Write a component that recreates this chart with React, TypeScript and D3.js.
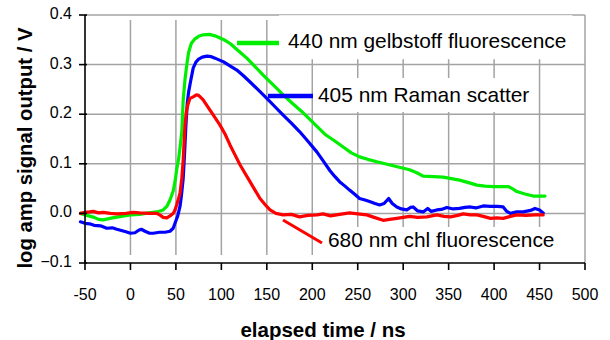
import React, { useEffect, useRef } from 'react';
import * as d3 from 'd3';

// ---- axis ticks ----
const xTicks = [-50, 0, 50, 100, 150, 200, 250, 300, 350, 400, 450, 500];
const yTicks = [-0.1, 0.0, 0.1, 0.2, 0.3, 0.4];
const xTitle = 'elapsed time / ns';
const yTitle = 'log amp signal output / V';

// ---- 440 nm gelbstoff fluorescence (green) ----
const gelbstoffTime = [-55, -48, -40, -35, -30, -25, -20, -10, 0, 10, 20, 29, 36, 40, 43.5, 47, 49, 51, 53, 55, 56.5, 58, 60, 62, 64, 67, 71, 75, 80, 87, 93, 98, 104, 110, 118, 128, 137, 146, 157, 168, 178, 188, 197, 206, 215, 224, 234, 243, 252, 261, 271, 280, 289, 298, 307, 315, 322, 333, 344, 353, 362, 372, 381, 390, 399, 408, 416, 421, 425, 434, 443, 450, 456];
const gelbstoffSignal = [0.0, -0.004, -0.008, -0.012, -0.013, -0.011, -0.009, -0.006, -0.003, -0.002, 0.001, 0.003, 0.007, 0.014, 0.027, 0.045, 0.064, 0.09, 0.11, 0.14, 0.165, 0.228, 0.27, 0.3, 0.325, 0.343, 0.352, 0.357, 0.36, 0.361, 0.358, 0.354, 0.349, 0.342, 0.329, 0.313, 0.296, 0.279, 0.259, 0.239, 0.222, 0.206, 0.19, 0.174, 0.158, 0.147, 0.134, 0.122, 0.114, 0.109, 0.104, 0.1, 0.096, 0.092, 0.088, 0.082, 0.075, 0.074, 0.073, 0.07, 0.067, 0.062, 0.057, 0.055, 0.054, 0.054, 0.054, 0.049, 0.044, 0.039, 0.035, 0.035, 0.035];

// ---- 405 nm Raman scatter (blue) ----
const ramanTime = [-55, -50, -45, -40, -33, -26, -20, -15, -11, -5, 0, 5, 9, 12, 16, 21, 25, 32, 38, 43.5, 47, 49, 52, 54.5, 56, 58, 59.5, 61, 62.5, 64, 66, 69, 72, 75, 79, 84, 89, 93, 98, 102, 109, 117, 124, 131, 140, 150, 159, 168, 177, 186, 195, 205, 212, 219.5, 225, 230, 236, 241, 247, 252, 258, 263, 269, 274, 279, 284, 288, 293, 298, 304, 308, 311, 316, 322, 327, 331, 337, 342, 348, 355, 362, 368, 374, 380, 388, 396, 404, 410, 414, 418, 425, 432, 440, 445, 450, 454];
const ramanSignal = [-0.017, -0.02, -0.021, -0.024, -0.025, -0.03, -0.029, -0.032, -0.034, -0.037, -0.04, -0.039, -0.034, -0.032, -0.036, -0.04, -0.04, -0.038, -0.038, -0.036, -0.03, -0.02, -0.005, 0.014, 0.035, 0.07, 0.12, 0.178, 0.222, 0.245, 0.265, 0.293, 0.305, 0.311, 0.315, 0.317, 0.316, 0.313, 0.309, 0.306, 0.298, 0.289, 0.278, 0.266, 0.25, 0.232, 0.215, 0.198, 0.182, 0.165, 0.146, 0.124, 0.106, 0.086, 0.074, 0.064, 0.055, 0.047, 0.038, 0.03, 0.027, 0.024, 0.02, 0.017, 0.02, 0.03, 0.02, 0.013, 0.009, 0.007, 0.012, 0.013, 0.005, 0.003, 0.01, 0.004, 0.007, 0.008, 0.012, 0.009, 0.01, 0.012, 0.013, 0.011, 0.015, 0.014, 0.014, 0.013, 0.004, 0.0, 0.003, 0.003, 0.006, 0.01, 0.007, 0.001];

// ---- 680 nm chl fluorescence (red) ----
const chlTime = [-55, -50, -45, -41, -35, -30, -22, -15, -5, 3, 10, 20, 29, 33, 36, 40, 43.5, 47, 49, 51, 54.5, 56.5, 58, 60, 61.5, 63, 65.5, 69, 72.5, 75, 80, 84, 87.5, 93, 98.5, 104, 109.5, 115, 120.5, 126, 131.5, 137, 142.5, 148, 153.5, 160, 168, 177, 186, 195, 205, 212, 220, 230, 241, 250, 260, 268, 278, 285, 293, 300, 307, 316, 326, 337, 345, 352, 360, 366, 374, 381, 388, 396, 403, 410, 418, 425, 435, 445, 454];
const chlSignal = [0.0, 0.002, 0.003, 0.004, 0.001, 0.002, 0.0, -0.001, 0.0, 0.002, 0.001, 0.0, 0.0, -0.004, -0.008, -0.009, -0.005, 0.0, 0.007, 0.018, 0.04, 0.071, 0.107, 0.178, 0.205, 0.218, 0.232, 0.235, 0.239, 0.238, 0.229, 0.218, 0.208, 0.193, 0.178, 0.16, 0.138, 0.118, 0.098, 0.081, 0.064, 0.047, 0.03, 0.018, 0.007, 0.0, -0.003, -0.002, -0.007, -0.004, -0.003, -0.001, -0.005, -0.002, 0.001, -0.001, -0.003, -0.008, -0.014, -0.012, -0.01, -0.008, -0.006, -0.008, -0.007, -0.003, -0.006, -0.007, -0.004, -0.001, -0.003, -0.003, -0.006, -0.01, -0.009, -0.01, -0.006, -0.003, -0.004, -0.003, -0.003];

const seriesNames = ['gelbstoff', 'raman', 'chl'];
const seriesColors = ['#00ee00', '#0000ff', '#ff0000'];
const seriesTimes = [gelbstoffTime, ramanTime, chlTime];
const seriesSignals = [gelbstoffSignal, ramanSignal, chlSignal];

// ---- annotation labels (in data units) ----
const labelTexts = ['440 nm gelbstoff fluorescence', '405 nm Raman scatter', '680 nm chl fluorescence'];
const labelColors = ['#00ee00', '#0000ff', '#ff0000'];
const labelLineStart = [[117.2, 0.3435], [151.3, 0.2367], [167.8, -0.0133]];
const labelLineEnd = [[163.4, 0.3435], [200.8, 0.2367], [210.7, -0.0597]];
const labelTextPos = [[173.3, 0.333], [206.3, 0.2246], [217.3, -0.0677]];

// layout constants
const W = 610;
const H = 340;
const left = 85;
const right = 585;
const top = 15;
const bottom = 263;
const FONT = '"Liberation Sans", Arial, Helvetica, sans-serif';
const labelLineWidths = [4.5, 4.5, 3];
// [left, top, right, bottom] padding of white box behind each label
const labelPads = [[9, 14, 6, 7], [5, 5, 6, 6], [6, 1, 6, 6]];

export default function App() {
  const ref = useRef<SVGSVGElement>(null);

  useEffect(() => {
    const svg = d3.select(ref.current);
    svg.selectAll('*').remove();

    const x = d3.scaleLinear().domain([-50, 500]).range([left, right]);
    const y = d3.scaleLinear().domain([-0.1, 0.4]).range([bottom, top]);

    const grid = svg.append('g');
    yTicks.filter((v) => v > -0.1).forEach((v) => {
      grid.append('line')
        .attr('x1', left).attr('x2', right)
        .attr('y1', y(v)).attr('y2', y(v))
        .attr('stroke', '#a3a3a3').attr('stroke-width', 1.5);
    });
    xTicks.filter((t) => t > -50).forEach((t) => {
      const last = t === 500;
      grid.append('line')
        .attr('x1', x(t)).attr('x2', x(t))
        .attr('y1', last ? top : top + 5)
        .attr('y2', last ? bottom : bottom - 8)
        .attr('stroke', '#a3a3a3').attr('stroke-width', 1.5);
    });

    const line = d3.line<[number, number]>()
      .x((d) => x(d[0]))
      .y((d) => y(d[1]));
    seriesNames.forEach((name, i) => {
      const pts: [number, number][] = seriesTimes[i].map((t, j) => [t, seriesSignals[i][j]]);
      svg.append('path')
        .attr('class', name)
        .attr('d', line(pts))
        .attr('fill', 'none')
        .attr('stroke', seriesColors[i])
        .attr('stroke-width', 3.2)
        .attr('stroke-linejoin', 'round')
        .attr('stroke-linecap', 'round');
    });

    labelTexts.forEach((txt, i) => {
      const g = svg.append('g');
      const rect = g.append('rect').attr('fill', '#ffffff');
      const text = g.append('text')
        .attr('x', x(labelTextPos[i][0]))
        .attr('y', y(labelTextPos[i][1]))
        .attr('font-family', FONT)
        .attr('font-size', 20.9)
        .attr('fill', '#000')
        .text(txt);
      const bb = (text.node() as SVGTextElement).getBBox();
      const p = labelPads[i];
      rect.attr('x', bb.x - p[0]).attr('y', bb.y - p[1])
        .attr('width', bb.width + p[0] + p[2])
        .attr('height', bb.height + p[1] + p[3]);
      svg.append('line')
        .attr('x1', x(labelLineStart[i][0])).attr('y1', y(labelLineStart[i][1]))
        .attr('x2', x(labelLineEnd[i][0])).attr('y2', y(labelLineEnd[i][1]))
        .attr('stroke', labelColors[i])
        .attr('stroke-width', labelLineWidths[i]);
    });

    const axes = svg.append('g');
    axes.append('line').attr('x1', left).attr('x2', left).attr('y1', top).attr('y2', bottom)
      .attr('stroke', '#000').attr('stroke-width', 1.6);
    axes.append('line').attr('x1', left).attr('x2', right).attr('y1', bottom).attr('y2', bottom)
      .attr('stroke', '#000').attr('stroke-width', 1.6);
    yTicks.forEach((v) => {
      axes.append('line').attr('x1', left - 6).attr('x2', left + 2)
        .attr('y1', y(v)).attr('y2', y(v)).attr('stroke', '#000').attr('stroke-width', 1.6);
      axes.append('text')
        .attr('x', left - 13).attr('y', y(v) + 4)
        .attr('text-anchor', 'end')
        .attr('font-family', FONT).attr('font-size', 16).attr('fill', '#000')
        .text(d3.format('.1f')(v));
    });
    xTicks.forEach((t) => {
      axes.append('line').attr('x1', x(t)).attr('x2', x(t))
        .attr('y1', bottom - (t === -50 ? 3 : 0)).attr('y2', bottom + 7)
        .attr('stroke', '#000').attr('stroke-width', 1.6);
      axes.append('text')
        .attr('x', x(t)).attr('y', 300)
        .attr('text-anchor', 'middle')
        .attr('font-family', FONT).attr('font-size', 16).attr('fill', '#000')
        .text(String(t));
    });
    axes.append('text')
      .attr('x', 323).attr('y', 337)
      .attr('text-anchor', 'middle')
      .attr('font-family', FONT).attr('font-size', 20.5).attr('font-weight', 'bold')
      .text(xTitle);
    axes.append('text')
      .attr('transform', 'translate(32,148) rotate(-90)')
      .attr('text-anchor', 'middle')
      .attr('font-family', FONT).attr('font-size', 20.3).attr('font-weight', 'bold')
      .text(yTitle);
  }, []);

  return (
    <svg
      ref={ref}
      width={W}
      height={H}
      style={{ position: 'absolute', left: 0, top: 0, background: '#fff' }}
    />
  );
}
